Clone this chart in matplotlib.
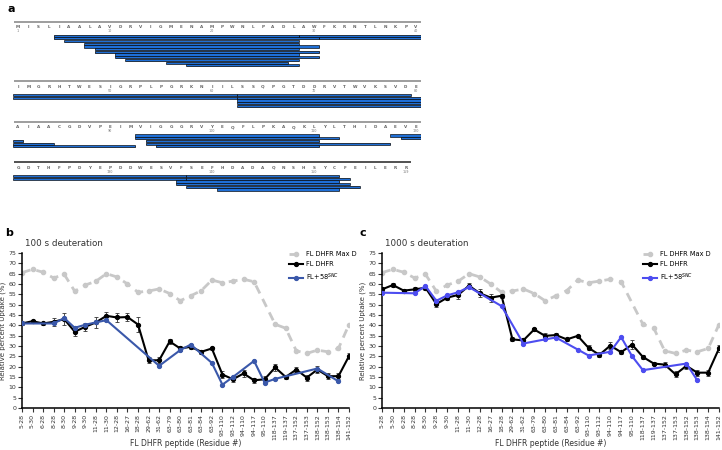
import numpy as np
import matplotlib
matplotlib.use('Agg')
from matplotlib import pyplot as plt
from matplotlib.patches import Rectangle

# E. coli DHFR sequence (159 aa), shown 40 residues per row
sequence = ("MISLIAALAVDRVIGMENAMPWNLPADLAWFKRNTLNKPV"
            "IMGRHTWESIGRPLPGRKNIILSSQPGTDDRVTWVKSVDE"
            "AIAACGDVPEIMVIGGGRVYEQFLPKAQKLYLTHIDAEVE"
            "GDTHFPDYEPDDWESVFSEFHDADAQNSHSYCFEILERR")

peptides = ['5-28', '5-30', '6-28', '8-28', '8-30', '9-28', '9-30', '11-28',
            '11-30', '12-28', '16-27', '18-28', '29-62', '31-62', '63-79',
            '63-80', '63-81', '63-84', '63-92', '93-110', '93-112', '94-110',
            '94-117', '95-110', '118-137', '119-137', '137-152', '137-153',
            '138-152', '138-153', '138-154', '141-152']

max_d = [65.5, 67.1, 65.7, 62.9, 64.7, 56.5, 59.5, 61.3, 65.0, 63.4, 60.0, 56.0,
         56.6, 57.6, 55.4, 51.9, 54.3, 56.8, 61.9, 60.6, 61.4, 62.3, 61.1, None,
         40.5, 38.6, 27.7, 26.4, 28.0, 27.2, 28.8, 40.4]

# 100 s deuteration
fl_100 = [40.9, 42.0, 40.9, 41.7, 43.0, 36.9, 39.3, 41.4, 44.6, 43.8, 44.0, 40.4,
          23.1, 23.1, 32.2, 28.8, 29.6, 27.2, 28.8, 16.2, 13.9, 16.7, 13.4, 13.9,
          19.6, 15.0, 18.6, 14.7, 18.6, 15.4, 15.4, 25.1]
fl_100_err = [0.8, 0.8, 0.8, 1.8, 2.8, 2.3, 2.0, 2.8, 2.0, 2.0, 2.0, 3.5,
              1.5, 1.5, 1.0, 1.0, 1.0, 1.0, 0.6, 1.5, 1.5, 1.5, 1.2, 1.5,
              1.5, 0.8, 1.2, 1.5, 1.5, 1.5, 1.5, 1.5]
fl58_100 = [40.9, None, None, 40.9, 43.5, 38.8, 40.3, 41.4, 42.5, None, None, None,
            None, 20.4, None, 28.0, 30.7, None, 21.8, 11.3, 15.0, None, 22.8, 12.3,
            14.1, None, None, None, 19.1, None, 12.9, None]

# 1000 s deuteration
fl_1000 = [57.4, 59.5, 56.8, 57.4, 58.2, 50.3, 53.4, 54.7, 59.2, 55.5, 53.4, 54.3,
           33.2, 32.7, 38.0, 34.9, 35.3, 33.2, 34.9, 29.1, 25.7, 30.2, 27.0, 30.7,
           24.7, 21.5, 21.0, 16.3, 20.4, 17.1, 17.1, 28.8]
fl_1000_err = [1.0, 0.8, 0.8, 1.0, 1.0, 1.5, 1.2, 2.0, 1.2, 2.0, 2.0, 1.0,
               1.0, 1.0, 0.8, 1.2, 0.8, 0.8, 0.6, 1.2, 1.2, 1.5, 0.8, 2.0,
               1.0, 0.8, 1.2, 1.5, 1.5, 1.5, 1.5, 1.5]
fl58_1000 = [55.8, None, None, 55.5, 59.0, 51.9, 54.5, 56.0, 58.5, None, None, 49.3,
             None, 31.2, None, 33.2, 34.1, None, 28.3, 25.4, None, 27.2, 34.3, 25.1,
             18.3, None, None, None, 21.5, 13.4, None, None]

W, H = 722, 450
fig = plt.figure(figsize=(W / 100, H / 100), dpi=100)


def px_axes(x0, y0, x1, y1):
    return fig.add_axes([x0 / W, 1 - y1 / H, (x1 - x0) / W, (y1 - y0) / H])


# ---------------- panel a: peptide coverage map ----------------
spans = [tuple(int(v) for v in p.split('-')) for p in peptides]
lane_end, lanes = [], []
for s, e in spans:
    for i, le in enumerate(lane_end):
        if s > le:
            lane_end[i] = e
            lanes.append(i)
            break
    else:
        lane_end.append(e)
        lanes.append(len(lane_end) - 1)

per_row = 40
n_rows = int(np.ceil(len(sequence) / per_row))
lane_h = 2.7
row_lanes = []
for r in range(n_rows):
    lo, hi = r * per_row + 1, (r + 1) * per_row
    used = [ln for (s, e), ln in zip(spans, lanes) if s <= hi and e >= lo]
    row_lanes.append(max(used) + 1 if used else 0)
row_y = [22.0]
for r in range(n_rows - 1):
    row_y.append(row_y[-1] + 27 + row_lanes[r] * lane_h)

axa = px_axes(13, 0, 421, 215)
axa.set_xlim(0.5, 40.5)
axa.set_ylim(215, 0)
axa.axis('off')

for r in range(n_rows):
    y0 = row_y[r]
    chunk = sequence[r * per_row:(r + 1) * per_row]
    axa.plot([0.6, len(chunk) + 0.5], [y0, y0], color='#333333' if r == n_rows - 1 else '#8c8c8c',
             lw=1.2, solid_capstyle='butt')
    for j, aa in enumerate(chunk):
        resnum = r * per_row + j + 1
        axa.text(j + 1, y0 + 5.5, aa, fontsize=3.0, color='#666666', ha='center', va='center',
                 fontweight='bold')
        if resnum == 1 or resnum % 10 == 0 or resnum == len(sequence):
            axa.text(j + 1, y0 + 9.5, str(resnum), fontsize=2.4, color='#777777',
                     ha='center', va='center')
    lo, hi = r * per_row + 1, (r + 1) * per_row
    for (s, e), ln in zip(spans, lanes):
        if e < lo or s > hi:
            continue
        a0 = max(s, lo) - lo + 0.5
        a1 = min(e, hi) - lo + 1.5
        yb = y0 + 12.5 + ln * lane_h
        axa.add_patch(Rectangle((a0 + 0.05, yb + 0.6), a1 - a0, lane_h * 0.85,
                                facecolor='#b5b5b5', edgecolor='none', zorder=1))
        axa.add_patch(Rectangle((a0, yb), a1 - a0, lane_h * 0.85,
                                facecolor='#1f6fd6', edgecolor='black', lw=0.45, zorder=2))

fig.text(8 / W, 1 - 9 / H, 'a', fontsize=8, fontweight='bold', va='center')


# ---------------- panels b and c: uptake plots ----------------
def uptake_panel(ax, title, fl, fl_err, fl58, blue, legend_x):
    x = np.arange(len(peptides))
    gx = [i for i, v in enumerate(max_d) if v is not None]
    g, = ax.plot(gx, [max_d[i] for i in gx], color='#c8c8c8', ls=(0, (3.2, 2.2)), lw=2.0,
                 marker='o', ms=3.0, mec='#c8c8c8', zorder=1)
    eb = ax.errorbar(x, fl, yerr=fl_err, color='black', lw=1.5, marker='o', ms=2.8,
                     elinewidth=0.6, capsize=1.3, capthick=0.6, ecolor='#333333', zorder=3)
    bx = [i for i, v in enumerate(fl58) if v is not None]
    b = ax.errorbar(bx, [fl58[i] for i in bx], yerr=0.7, color=blue, lw=1.5, marker='o',
                    ms=2.8, elinewidth=0.5, capsize=1.0, capthick=0.5, zorder=4)
    ax.set_xlim(0, len(peptides) - 1)
    ax.set_ylim(0, 75)
    ax.set_yticks(np.arange(0, 76, 5))
    ax.set_xticks(x)
    ax.set_xticklabels(peptides, rotation=90)
    ax.spines['top'].set_visible(False)
    ax.spines['right'].set_visible(False)
    ax.spines['left'].set_linewidth(1.1)
    ax.spines['bottom'].set_linewidth(1.1)
    ax.tick_params(axis='both', labelsize=4.5, length=3, width=0.8, pad=1.2, colors='#333333')
    ax.set_ylabel('Relative percent Uptake (%)', fontsize=5, labelpad=1.5, color='#333333')
    ax.set_xlabel('FL DHFR peptide (Residue #)', fontsize=5.5, color='#333333')
    # place the x label just above the bottom edge of the figure
    ax.xaxis.set_label_coords(0.5, -(443 - 408) / (408 - 253), transform=ax.transAxes)
    ax.xaxis.label.set_va('center')
    ax.text(0.01, 1.03, title, transform=ax.transAxes, fontsize=6.3, color='#333333',
            ha='left', va='bottom')
    ax.legend([g, eb[0], b[0]], ['FL DHFR Max D', 'FL DHFR', 'FL+58$^{SNC}$'],
              loc='upper left', bbox_to_anchor=(legend_x / W, 1 - 248 / H),
              bbox_transform=fig.transFigure, frameon=False, fontsize=4.8,
              handlelength=2.0, handletextpad=0.5, labelspacing=0.6, borderpad=0)


axb = px_axes(22, 253, 349, 408)
uptake_panel(axb, '100 s deuteration', fl_100, fl_100_err, fl58_100, '#3a58aa', 286)
axc = px_axes(382, 253, 719, 408)
uptake_panel(axc, '1000 s deuteration', fl_1000, fl_1000_err, fl58_1000, '#4d4df0', 640)

fig.text(5 / W, 1 - 233 / H, 'b', fontsize=8, fontweight='bold', va='center')
fig.text(360 / W, 1 - 233 / H, 'c', fontsize=8, fontweight='bold', va='center')

plt.savefig('out.png', dpi=100)
